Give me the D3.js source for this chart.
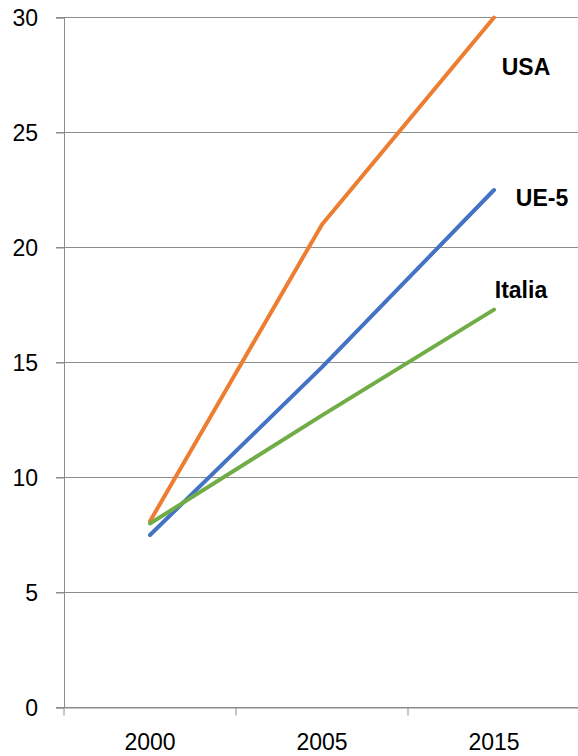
<!DOCTYPE html>
<html>
<head>
<meta charset="utf-8">
<script src="https://cdn.jsdelivr.net/npm/d3@7"></script>
<style>
  body { margin: 0; background: #fff; }
  .tick text { font-family: "Liberation Sans", Arial, sans-serif; font-size: 23px; fill: #000; }
</style>
</head>
<body>
<div class="chart"></div>
<script>
// data
var years = ["2000", "2005", "2015"];
var usa = [8.1, 21, 30];
var ue5 = [7.5, 14.8, 22.5];
var italia = [8.0, 12.7, 17.3];
var seriesNames = ["USA", "UE-5", "Italia"];
var yTicks = [0, 5, 10, 15, 20, 25, 30];

var svgWidth = 578;
var svgHeight = 756;

var margin = { top: 17.5, right: -2, bottom: 48.5, left: 64 };
var width = svgWidth - margin.left - margin.right;
var height = svgHeight - margin.top - margin.bottom;

var svg = d3.select(".chart")
  .append("svg")
  .attr("width", svgWidth)
  .attr("height", svgHeight);

var chartGroup = svg.append("g")
  .attr("transform", `translate(${margin.left}, ${margin.top})`);

var x = d3.scaleBand().domain(years).range([0, width]);
var y = d3.scaleLinear().domain([0, 30]).range([height, 0]);

// gridlines
chartGroup.append("g")
  .selectAll("line")
  .data(yTicks)
  .enter()
  .append("line")
  .attr("x1", -8)
  .attr("x2", width)
  .attr("y1", d => y(d))
  .attr("y2", d => y(d))
  .attr("stroke", "#8c8c8c")
  .attr("stroke-width", 1);

// y axis
var leftAxis = d3.axisLeft(y).tickValues(yTicks).tickSize(8).tickPadding(18);
var yAxis = chartGroup.append("g").call(leftAxis);
yAxis.select(".domain").attr("stroke", "#8c8c8c");
yAxis.selectAll(".tick line").attr("stroke", "#8c8c8c");
yAxis.selectAll(".tick text").attr("dy", "0.35em");

// x axis, ticks on band boundaries
var bottomAxis = d3.axisBottom(x).tickSize(0).tickPadding(26);
var xAxis = chartGroup.append("g")
  .attr("transform", `translate(0, ${height})`)
  .call(bottomAxis);
xAxis.select(".domain").attr("stroke", "#8c8c8c");
xAxis.selectAll(".tick text").attr("dy", "0.71em");
chartGroup.append("g")
  .selectAll("line")
  .data(years.map(d => x(d)).concat([width]))
  .enter()
  .append("line")
  .attr("x1", d => d)
  .attr("x2", d => d)
  .attr("y1", height)
  .attr("y2", height + 8)
  .attr("stroke", "#8c8c8c");

// lines
var series = [
  { name: seriesNames[0], values: usa, color: "#ED7D31", lx: 526, ly: 67 },
  { name: seriesNames[1], values: ue5, color: "#4472C4", lx: 542, ly: 198 },
  { name: seriesNames[2], values: italia, color: "#70AD47", lx: 521, ly: 290 }
];

var line = d3.line()
  .x((d, i) => x(years[i]) + x.bandwidth() / 2)
  .y(d => y(d));

chartGroup.selectAll(".series")
  .data(series)
  .enter()
  .append("path")
  .attr("class", "series")
  .attr("d", d => line(d.values))
  .attr("fill", "none")
  .attr("stroke", d => d.color)
  .attr("stroke-width", 4)
  .attr("stroke-linecap", "round")
  .attr("stroke-linejoin", "round");

// labels
svg.selectAll(".lbl")
  .data(series)
  .enter()
  .append("text")
  .attr("class", "lbl")
  .attr("x", d => d.lx)
  .attr("y", d => d.ly)
  .attr("text-anchor", "middle")
  .attr("dy", "0.35em")
  .attr("font-family", "Liberation Sans, Arial, sans-serif")
  .attr("font-weight", "bold")
  .attr("font-size", 23)
  .text(d => d.name);
</script>
</body>
</html>
